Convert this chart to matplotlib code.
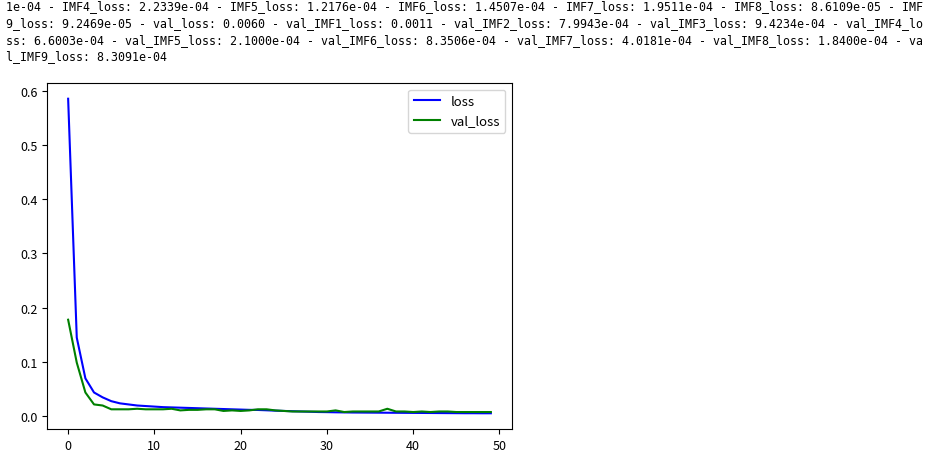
import matplotlib
matplotlib.use("Agg")
import matplotlib.pyplot as plt

# Log text printed above the chart (wrapped console output)
log_lines = [
    "1e-04 - IMF4_loss: 2.2339e-04 - IMF5_loss: 1.2176e-04 - IMF6_loss: 1.4507e-04 - IMF7_loss: 1.9511e-04 - IMF8_loss: 8.6109e-05 - IMF",
    "9_loss: 9.2469e-05 - val_loss: 0.0060 - val_IMF1_loss: 0.0011 - val_IMF2_loss: 7.9943e-04 - val_IMF3_loss: 9.4234e-04 - val_IMF4_lo",
    "ss: 6.6003e-04 - val_IMF5_loss: 2.1000e-04 - val_IMF6_loss: 8.3506e-04 - val_IMF7_loss: 4.0181e-04 - val_IMF8_loss: 1.8400e-04 - va",
    "l_IMF9_loss: 8.3091e-04",
]

# Training history
loss = [0.585, 0.145, 0.070, 0.044, 0.035, 0.028, 0.024, 0.022, 0.020, 0.019,
        0.018, 0.017, 0.0165, 0.016, 0.0155, 0.015, 0.0145, 0.014, 0.0135, 0.013,
        0.0125, 0.012, 0.0118, 0.0112, 0.0105, 0.010, 0.0095, 0.009, 0.0085, 0.008,
        0.0078, 0.0075, 0.0073, 0.0071, 0.0070, 0.0069, 0.0068, 0.0067, 0.0066, 0.0065,
        0.0064, 0.0063, 0.0062, 0.0061, 0.0060, 0.0059, 0.0058, 0.0058, 0.0057, 0.0057]
val_loss = [0.178, 0.099, 0.044, 0.022, 0.020, 0.013, 0.013, 0.013, 0.014, 0.013,
            0.013, 0.013, 0.014, 0.011, 0.012, 0.012, 0.013, 0.013, 0.010, 0.011,
            0.010, 0.011, 0.013, 0.013, 0.011, 0.010, 0.009, 0.009, 0.009, 0.009,
            0.009, 0.011, 0.008, 0.009, 0.009, 0.009, 0.009, 0.014, 0.009, 0.009,
            0.008, 0.009, 0.008, 0.009, 0.009, 0.008, 0.008, 0.008, 0.008, 0.008]
epochs = list(range(len(loss)))

W, H = 940, 464
fig = plt.figure(figsize=(W / 100, H / 100), dpi=100)

# console text
line_y = [7, 24, 41, 57]
for txt, y in zip(log_lines, line_y):
    fig.text(6 / W, 1 - y / H, txt, family="DejaVu Sans Mono", fontsize=8.35,
             va="center", ha="left", color="black")

# axes placed in pixel coords
left, right, top, bottom = 47, 512, 84, 430
ax = fig.add_axes([left / W, 1 - bottom / H, (right - left) / W, (bottom - top) / H])
ax.plot(epochs, loss, color="blue", label="loss", linewidth=1.5)
ax.plot(epochs, val_loss, color="green", label="val_loss", linewidth=1.5)
ax.tick_params(labelsize=9)
for lab in ax.get_xticklabels() + ax.get_yticklabels():
    lab.set_family(["Noto Sans CJK SC", "DejaVu Sans"])
ax.legend(loc="upper right", prop={"family": ["Noto Sans CJK SC", "DejaVu Sans"], "size": 9.5})

plt.savefig("out.png", dpi=100)
